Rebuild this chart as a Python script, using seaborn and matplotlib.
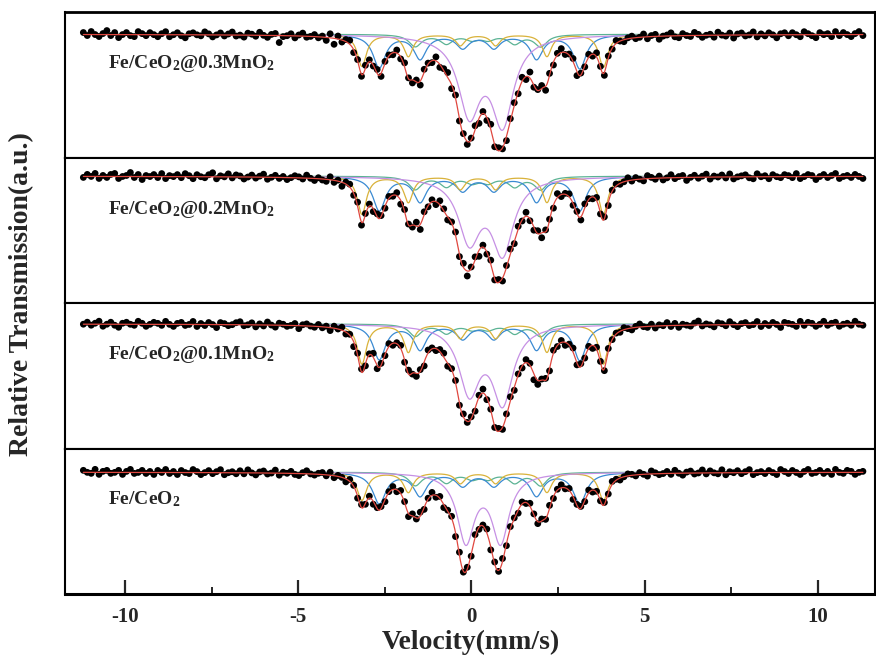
import numpy as np
import pandas as pd
import matplotlib
matplotlib.use("Agg")
import matplotlib.pyplot as plt
import seaborn as sns

sns.set_theme(style="white")
plt.rcParams["font.family"] = ["Liberation Serif", "DejaVu Serif"]
plt.rcParams["font.weight"] = "bold"
plt.rcParams["mathtext.fontset"] = "custom"
plt.rcParams["mathtext.rm"] = "Liberation Serif:bold"
plt.rcParams["mathtext.bf"] = "Liberation Serif:bold"
plt.rcParams["mathtext.it"] = "Liberation Serif:bold:italic"

# ---------------- data ----------------
samples = ["Fe/CeO$_2$@0.3MnO$_2$", "Fe/CeO$_2$@0.2MnO$_2$",
           "Fe/CeO$_2$@0.1MnO$_2$", "Fe/CeO$_2$"]

# fitted line positions (mm/s)
sextet_a_pos = [-3.16, -1.82, -0.32, 0.70, 2.18, 3.81]   # yellow
sextet_b_pos = [-2.66, -1.48, -0.25, 0.65, 1.88, 3.13]   # blue
sextet_c_pos = [-1.62, -0.72, 0.02, 0.48, 1.25, 2.00]    # green
doublet_pos = [[-0.06, 0.90], [-0.06, 0.90], [-0.06, 0.90], [-0.16, 0.84]]  # purple

# line depths (per mille absorption), one row per sample
sextet_a_depth = [[32, 22, 11, 11, 22, 33],
                  [38, 26, 13, 13, 26, 38],
                  [40, 28, 14, 14, 28, 40],
                  [28, 20, 11, 11, 20, 28]]
sextet_b_depth = [[33, 24, 13, 13, 24, 34],
                  [34, 25, 14, 14, 25, 34],
                  [35, 25, 14, 14, 25, 36],
                  [31, 23, 13, 13, 23, 31]]
sextet_c_depth = [[12, 9, 5, 5, 9, 12],
                  [13, 10, 6, 6, 10, 13],
                  [12, 9, 5, 5, 9, 12],
                  [13, 10, 6, 6, 10, 13]]
doublet_depth = [[76, 86], [62, 74], [66, 76], [68, 68]]

# half widths (mm/s)
sextet_a_hw = [0.16, 0.16, 0.16, 0.17]
sextet_b_hw = [0.22, 0.22, 0.22, 0.23]
sextet_c_hw = [0.22, 0.22, 0.22, 0.22]
doublet_hw = [0.38, 0.38, 0.36, 0.30]

# measured points: deviation from fit (per mille), channel by channel
resid_03 = [2, -1, 3, 0, -2, 1, 4, -1, 2, -3, 0, 2, -1, -2, 3, 1, -1, 2, 0, -2,
            1, 3, -2, 0, 2, -1, -3, 1, 2, 0, -1, 3, 1, -2, 0, 2, -1, 1, 3, -1,
            0, -2, 2, 1, -1, 3, 0, -2, 1, 2, -7, -1, 0, 2, -2, 1, 3, -1, 0, 2,
            -1, 1, -3, 4, -6, 3, -2, 2, 4, -3, 1, -2, 3, 2, -1, 4, -3, 2, 1, -2,
            3, -2, 4, 1, -3, 2, -4, 3, 1, -2, 4, -3, 2, 5, -4, 3, -2, 1, -3, 2,
            4, -5, 2, -3, 5, -2, 3, -1, -4, 2, 3, -2, 4, -3, 6, -2, 1, 3, -4, 2,
            -3, 2, 4, -2, 1, 3, -4, 2, -1, 3, -2, 4, 1, -3, 2, -1, 3, 0, -2, 1,
            2, -1, 0, 3, -2, 1, 2, -3, 0, 1, 3, -1, -2, 2, 0, -1, 3, 1, -2, 0,
            1, -2, 3, 0, -1, 2, -3, 1, 2, -1, 0, 3, -2, 1, -1, 2, 0, -3, 1, 2,
            -1, 2, 0, -2, 3, 1, -1, -3, 2, 0, 1, -2, 3, -1, 2, 0, -2, 1, 3, -1]
resid_02 = [-1, 2, 0, 3, -2, 1, -1, 2, 3, -2, 0, 1, 4, -1, 2, -3, 1, 0, 2, -1,
            3, -2, 1, 0, 2, -1, 3, 1, -2, 2, 0, -1, 2, 4, -2, 1, 0, 3, -1, 2,
            1, -2, 0, 2, -1, 1, 3, -2, 0, 2, -1, 1, -2, 0, 2, 1, -1, 3, 0, -2,
            1, -1, -2, 3, -2, 1, -4, 2, 3, -2, 4, -3, 1, 2, -3, 3, 1, -2, 2, -1,
            3, -4, 2, 1, -2, 4, -5, 3, -1, 2, -3, 4, 2, -3, 1, 3, -2, 4, -5, 2,
            3, -6, 2, -2, 4, -1, 3, -3, 2, 5, -2, 3, -1, 4, -2, -3, 3, -5, 2, 1,
            -3, 4, -2, 1, 3, -2, 2, -3, 4, 1, -2, 3, -1, 2, -3, 1, 2, -1, 0, 3,
            -1, 2, 0, -2, 3, 1, -1, 2, -2, 0, 3, -1, 1, 2, -3, 0, 2, -1, 1, 3,
            -2, 1, 0, 2, -1, 3, -2, 0, 1, 2, -1, -2, 3, 0, 1, -2, 2, 0, -1, 2,
            1, -1, 3, -2, 0, 2, 1, -3, 0, 2, -1, 1, 3, -2, 0, 1, -1, 2, 0, -2]
resid_01 = [0, 2, -1, 1, 3, -2, 0, 2, -1, -3, 1, 2, 0, -1, 3, 1, -2, 0, 2, 1,
            -1, 3, 0, -2, 1, 2, -1, 0, 3, -2, 1, -1, 2, 0, -3, 2, 1, -1, 0, 2,
            3, -1, 0, 2, -2, 1, -1, 3, 0, -2, 2, 1, -1, 0, 2, -3, 1, 2, 0, -1,
            2, -1, 1, -3, 2, 0, 3, -2, 1, -5, 2, 3, -2, 1, 4, -3, 2, -1, 3, -2,
            1, 3, -2, 4, -1, -3, 2, -4, 3, 1, -2, 2, 4, -3, 1, 2, -2, 3, -1, 2,
            -3, 2, 4, -2, 1, -1, 3, -2, 2, 4, -3, 1, -2, 3, 2, -6, -4, 1, 2, -2,
            3, -1, 2, -3, 1, 4, -2, 3, -1, 2, -3, 2, 1, -2, 3, 0, 1, -1, 2, 0,
            -2, 1, 3, 0, -1, 2, -2, 1, 0, 3, -1, 2, -2, 1, 0, -1, 2, 4, -1, 1,
            0, -2, 2, 1, -1, 3, 0, -2, 1, 2, -1, 0, 3, -2, 1, -1, 2, 0, -3, 2,
            1, 0, -2, 3, -1, 2, 1, -2, 0, 3, -1, 1, 2, -2, 0, 1, -1, 3, 0, -1]
resid_00 = [2, 0, -1, 3, -2, 1, 2, -1, 0, 2, -2, 1, 3, -1, 0, 2, -1, 1, -2, 2,
            0, 3, -1, 1, -2, 2, 0, -1, 3, 1, -2, 0, 2, -1, 1, 3, -2, 0, 1, -1,
            2, -1, 3, 0, -2, 1, 2, -1, 0, 3, -2, 1, 0, 2, -1, -2, 1, 3, 0, -1,
            1, 2, -1, 3, -2, 1, 0, -3, 2, 1, -2, 3, -1, 2, -3, 1, 2, -2, 1, 3,
            -2, 3, 1, -3, 2, -1, 4, -2, 1, 3, -2, 2, -3, 1, 2, -4, 3, -1, 2, -2,
            3, -2, 1, 4, -3, 2, -1, 3, -2, 2, 1, -3, 2, -1, 3, 1, -2, 2, -1, 3,
            -2, 1, 3, -1, 2, -3, 1, 2, -1, 3, -2, 1, 0, 2, -1, 3, 1, -2, 0, 2,
            1, -1, 2, 0, -2, 3, 1, -1, 0, 2, -1, 3, 0, -2, 1, 2, -1, 0, 3, -1,
            2, 0, -1, 3, -2, 1, 0, 2, -1, 1, 3, -2, 0, 1, -1, 2, 0, -2, 3, 1,
            -1, 2, 0, -2, 1, 3, -1, 0, 2, -1, 1, -2, 3, 0, -1, 2, 1, -2, 0, 1]
residuals = [resid_03, resid_02, resid_01, resid_00]

vel_min, vel_max = -11.2, 11.3      # velocity range of the spectrometer channels
n_channels = 200

# ---------------- style ----------------
c_a, c_b, c_c, c_d, c_fit = "#D9B23A", "#3A8AD2", "#5BB394", "#C690E4", "#E0473F"
top_margin_px = [22.3, 18.7, 21.0, 23.7]
panel_px = 146.0


def lorentz(v, pos, depth, hw):
    out = np.zeros_like(v)
    for p, d in zip(pos, depth):
        out += d / (1.0 + ((v - p) / hw) ** 2)
    return out


fig, axes = plt.subplots(4, 1, sharex=True, figsize=(8.76, 6.64), dpi=100)
fig.subplots_adjust(left=0.0742, right=0.9989, bottom=0.1054, top=0.9819, hspace=0)

vel_fine = np.linspace(vel_min, vel_max, 1500)
vel_ch = np.linspace(vel_min, vel_max, n_channels)

for k, ax in enumerate(axes):
    comps = {
        "A": lorentz(vel_fine, sextet_a_pos, sextet_a_depth[k], sextet_a_hw[k]),
        "B": lorentz(vel_fine, sextet_b_pos, sextet_b_depth[k], sextet_b_hw[k]),
        "C": lorentz(vel_fine, sextet_c_pos, sextet_c_depth[k], sextet_c_hw[k]),
        "D": lorentz(vel_fine, doublet_pos[k], doublet_depth[k], doublet_hw[k]),
    }
    total = sum(comps.values())
    total_ch = (lorentz(vel_ch, sextet_a_pos, sextet_a_depth[k], sextet_a_hw[k])
                + lorentz(vel_ch, sextet_b_pos, sextet_b_depth[k], sextet_b_hw[k])
                + lorentz(vel_ch, sextet_c_pos, sextet_c_depth[k], sextet_c_hw[k])
                + lorentz(vel_ch, doublet_pos[k], doublet_depth[k], doublet_hw[k]))
    assert len(residuals[k]) == n_channels
    pts = pd.DataFrame({"v": vel_ch,
                        "T": 1.0 - (total_ch - np.array(residuals[k])) / 1000.0})

    for key, col in zip(["C", "B", "A", "D"], [c_c, c_b, c_a, c_d]):
        df = pd.DataFrame({"v": vel_fine, "T": 1.0 - comps[key] / 1000.0})
        sns.lineplot(data=df, x="v", y="T", ax=ax, color=col, lw=0.9,
                     estimator=None, sort=False, zorder=2)
    sns.scatterplot(data=pts, x="v", y="T", ax=ax, color="black", s=24,
                    edgecolor="none", zorder=3)
    df = pd.DataFrame({"v": vel_fine, "T": 1.0 - total / 1000.0})
    sns.lineplot(data=df, x="v", y="T", ax=ax, color=c_fit, lw=0.9,
                 estimator=None, sort=False, zorder=4)

    t = top_margin_px[k]
    ax.set_ylim(1.0 - (panel_px - t) / 1000.0, 1.0 + t / 1000.0)
    ax.set_yticks([])
    ax.set_ylabel("")
    ax.set_xlabel("")
    for sp in ax.spines.values():
        sp.set_color("black")
        sp.set_linewidth(1.5)
    ax.text(0.053, 0.615, samples[k], transform=ax.transAxes, fontsize=14,
            fontweight="bold", ha="left", va="baseline")
    ax.tick_params(axis="x", which="both", bottom=False, top=False)

ax = axes[-1]
ax.set_xlim(-11.73, 11.65)
ax.set_xticks([-10, -5, 0, 5, 10])
ax.set_xticks([-7.5, -2.5, 2.5, 7.5], minor=True)
ax.set_xticklabels(["-10", "-5", "0", "5", "10"])
ax.tick_params(axis="x", which="major", bottom=True, direction="in", length=10,
               width=1.6, pad=9, labelsize=15)
ax.tick_params(axis="x", which="minor", bottom=True, direction="in", length=5,
               width=1.4)
for lab in ax.get_xticklabels():
    lab.set_fontweight("bold")
ax.spines["bottom"].set_linewidth(2.2)
axes[0].spines["top"].set_linewidth(2.0)

fig.text(0.538, 0.033, "Velocity(mm/s)", ha="center", va="center",
         fontsize=20, fontweight="bold")
fig.text(0.025, 0.557, "Relative Transmission(a.u.)", ha="center", va="center",
         rotation=90, fontsize=20, fontweight="bold")

fig.savefig("out.png", dpi=100)
